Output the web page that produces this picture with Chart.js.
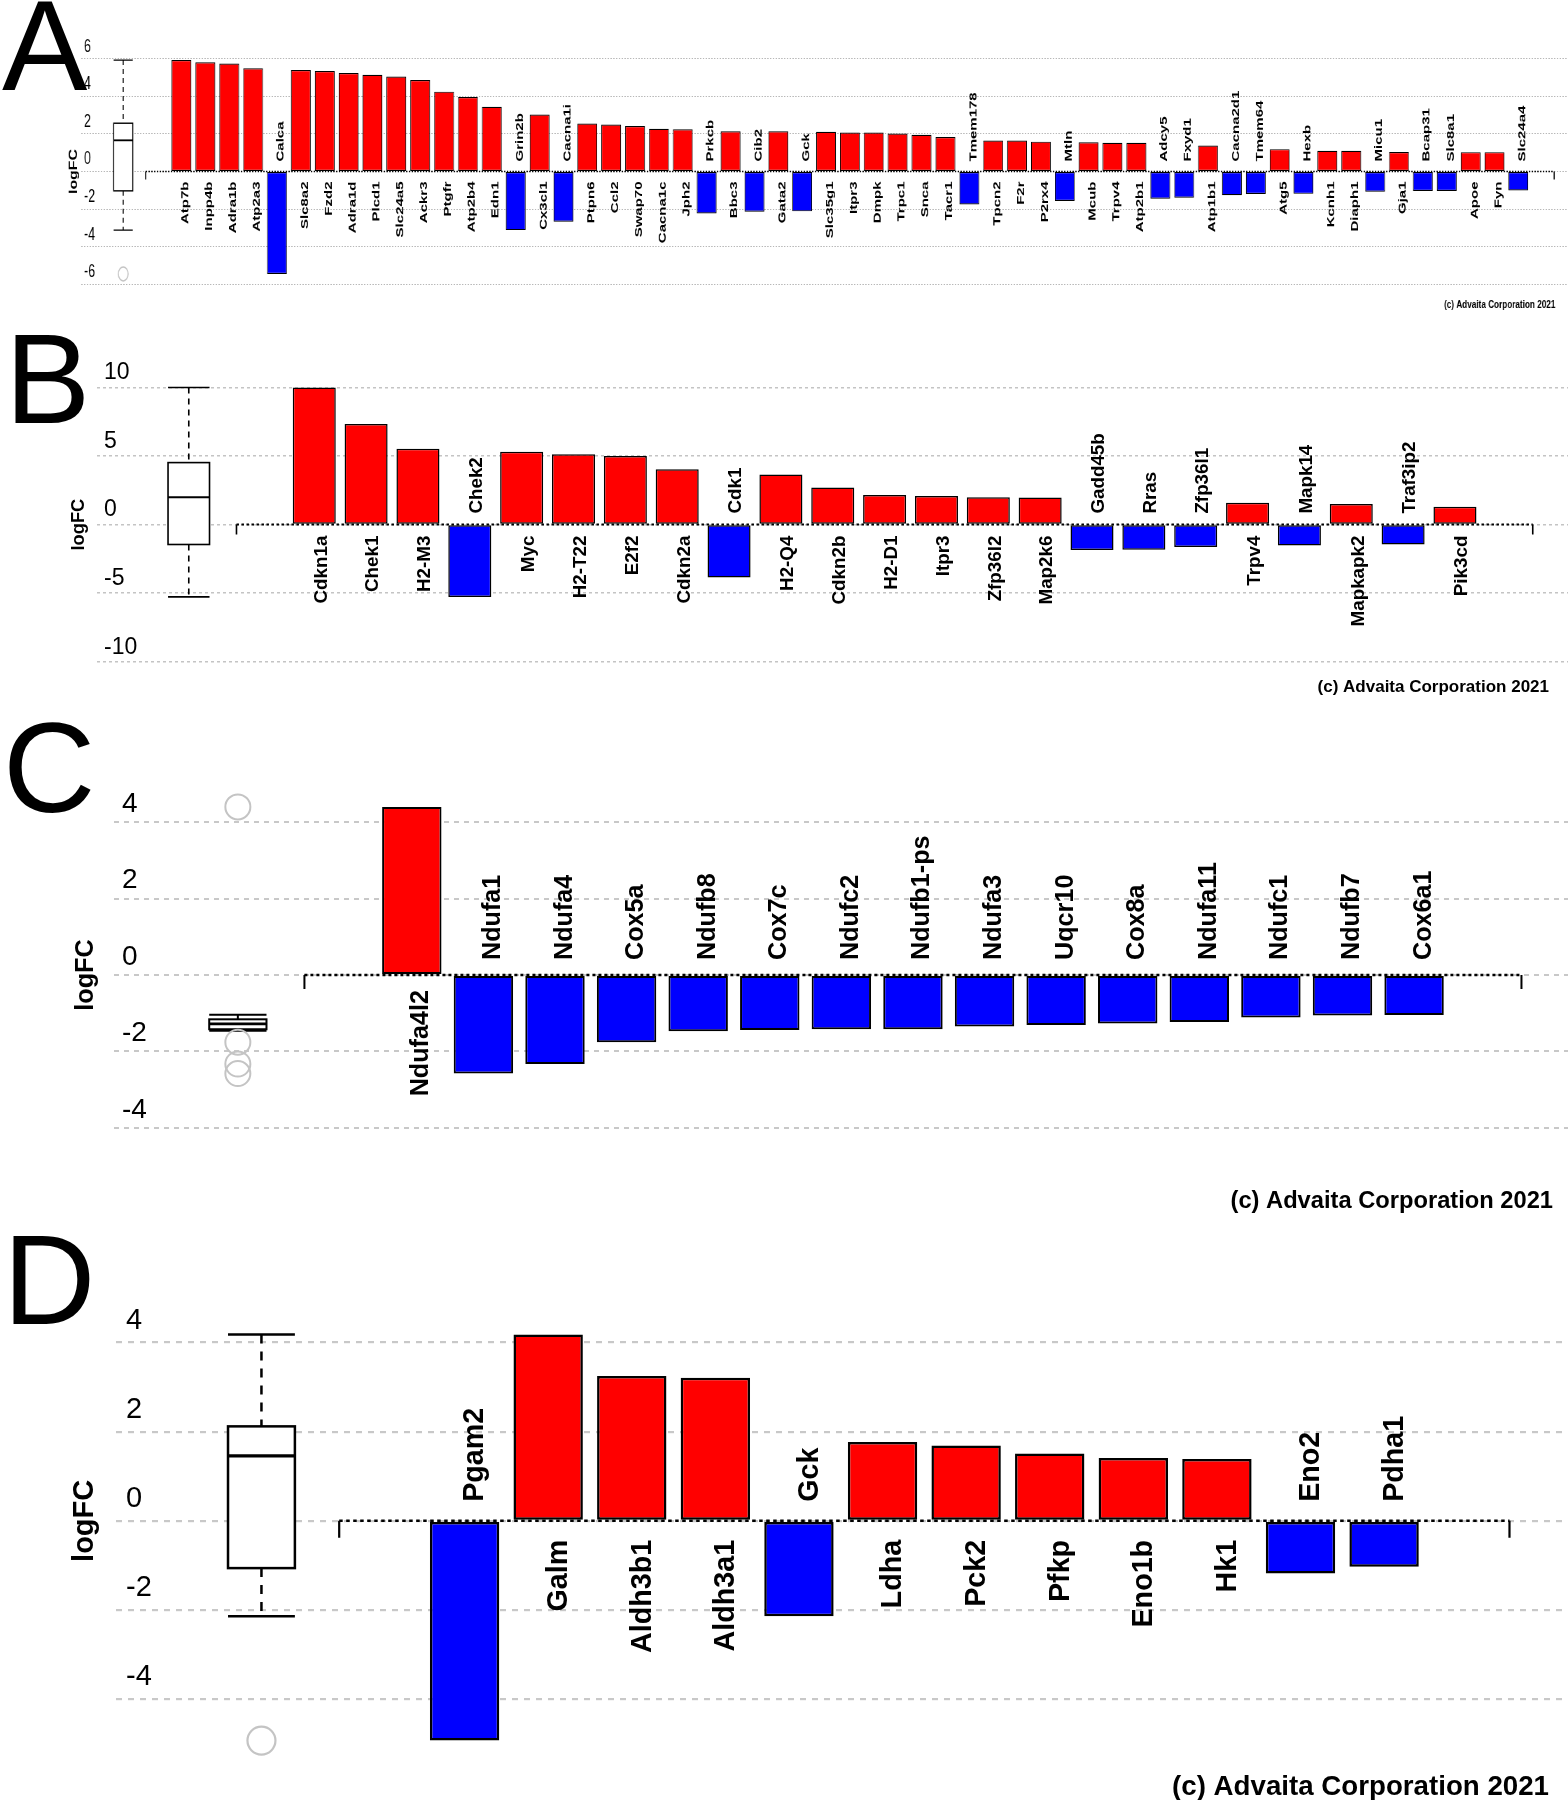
<!DOCTYPE html>
<html lang="en">
<head>
<meta charset="UTF-8">
<title>logFC bar charts A-D</title>
<script src="https://cdn.jsdelivr.net/npm/chart.js"></script>
<style>
  html, body { margin: 0; padding: 0; background: #fff; overflow: hidden; }
  .page { position: relative; width: 1568px; height: 1800px; overflow: hidden; background: #fff; }
  .panel { position: absolute; left: 0; }
  .squeeze { transform: scaleX(0.7); transform-origin: 0 0; }
  .letter {
    position: absolute;
    font-family: 'Liberation Sans', Arial, sans-serif;
    font-size: 128px;
    line-height: 1;
    color: #000;
  }
</style>
</head>
<body>
<div class="page">
  <div class="panel squeeze" style="top:0"><canvas id="chartA" width="2240" height="320"></canvas></div>
  <div class="panel" style="top:320px"><canvas id="chartB" width="1568" height="390"></canvas></div>
  <div class="panel" style="top:710px"><canvas id="chartC" width="1568" height="505"></canvas></div>
  <div class="panel" style="top:1215px"><canvas id="chartD" width="1568" height="585"></canvas></div>

  <div class="letter" style="left:2px; top:-18px">A</div>
  <div class="letter" style="left:5px; top:315px">B</div>
  <div class="letter" style="left:3px; top:704px">C</div>
  <div class="letter" style="left:3px; top:1216px">D</div>
</div>
<script>
// ---- data ----
const genesA = ['Atp7b','Inpp4b','Adra1b','Atp2a3','Calca','Slc8a2','Fzd2','Adra1d','Plcd1','Slc24a5',
  'Ackr3','Ptgfr','Atp2b4','Edn1','Grin2b','Cx3cl1','Cacna1i','Ptpn6','Ccl2','Swap70',
  'Cacna1c','Jph2','Prkcb','Bbc3','Cib2','Gata2','Gck','Slc35g1','Itpr3','Dmpk',
  'Trpc1','Snca','Tacr1','Tmem178','Tpcn2','F2r','P2rx4','Mtln','Mcub','Trpv4',
  'Atp2b1','Adcy5','Fxyd1','Atp1b1','Cacna2d1','Tmem64','Atg5','Hexb','Kcnh1','Diaph1',
  'Micu1','Gja1','Bcap31','Slc8a1','Apoe','Fyn','Slc24a4'];
const logfcA = [5.93, 5.81, 5.75, 5.49, -5.45, 5.40, 5.35, 5.24, 5.15, 5.06,
  4.87, 4.25, 3.96, 3.45, -3.12, 3.03, -2.67, 2.55, 2.50, 2.42,
  2.27, 2.25, -2.23, 2.14, -2.14, 2.14, -2.12, 2.11, 2.07, 2.07,
  2.02, 1.95, 1.84, -1.75, 1.65, 1.65, 1.59, -1.57, 1.56, 1.53,
  1.53, -1.45, -1.40, 1.38, -1.26, -1.20, 1.19, -1.19, 1.10, 1.10,
  -1.08, 1.04, -1.04, -1.04, 1.03, 1.03, -1.01];
const boxA = [-3.12, -1.03, 1.66, 2.57, 5.93];   // low whisker, q1, median, q3, high whisker
const outliersA = [-5.45];
const ticksA = [-6, -4, -2, 0, 2, 4, 6];

const genesB = ['Cdkn1a','Chek1','H2-M3','Chek2','Myc','H2-T22','E2f2','Cdkn2a','Cdk1','H2-Q4',
  'Cdkn2b','H2-D1','Itpr3','Zfp36l2','Map2k6','Gadd45b','Rras','Zfp36l1','Trpv4','Mapk14',
  'Mapkapk2','Traf3ip2','Pik3cd'];
const logfcB = [10.0, 7.34, 5.53, -5.27, 5.31, 5.12, 5.00, 4.03, -3.86, 3.65,
  2.71, 2.15, 2.08, 2.00, 1.98, -1.86, -1.84, -1.64, 1.59, -1.52,
  1.51, -1.45, 1.30];
const boxB = [-5.27, -1.45, 2.00, 4.52, 10.0];
const outliersB = [];
const ticksB = [-10, -5, 0, 5, 10];

const genesC = ['Ndufa4l2','Ndufa1','Ndufa4','Cox5a','Ndufb8','Cox7c','Ndufc2','Ndufb1-ps','Ndufa3',
  'Uqcr10','Cox8a','Ndufa11','Ndufc1','Ndufb7','Cox6a1'];
const logfcC = [4.40, -2.58, -2.33, -1.76, -1.47, -1.44, -1.42, -1.42, -1.35,
  -1.31, -1.27, -1.23, -1.11, -1.06, -1.05];
const boxC = [-1.46, -1.42, -1.28, -1.16, -1.04];
const outliersC = [4.40, -1.76, -2.33, -2.58];
const ticksC = [-4, -2, 0, 2, 4];

const genesD = ['Pgam2','Galm','Aldh3b1','Aldh3a1','Gck','Ldha','Pck2','Pfkp','Eno1b','Hk1','Eno2','Pdha1'];
const logfcD = [-4.93, 4.18, 3.25, 3.21, -2.14, 1.77, 1.69, 1.51, 1.41, 1.39, -1.18, -1.03];
const boxD = [-2.14, -1.06, 1.46, 2.12, 4.18];
const outliersD = [-4.93];
const ticksD = [-4, -2, 0, 2, 4];

const copyright = '(c) Advaita Corporation 2021';
const RED = '#ff0000';
const BLUE = '#0000ff';
const FONT = "'Liberation Sans', Arial, Helvetica, sans-serif";

Chart.defaults.font.family = FONT;
Chart.defaults.color = '#000';

function makePanel(id, genes, values, boxStats, outliers, ticks, s) {
  const points = values.map((v, i) => ({ x: i, y: v }));

  const decor = {
    id: 'decor',
    beforeDatasetsDraw(chart) {
      const { ctx } = chart;
      const xs = chart.scales.x, ys = chart.scales.y;
      const y0 = ys.getPixelForValue(0);
      const xa = xs.getPixelForValue(-1.5);
      const xb = xs.getPixelForValue(values.length + 0.5);
      ctx.save();
      ctx.strokeStyle = '#000';
      ctx.lineWidth = s.axisWidth;
      ctx.setLineDash(s.axisDash);
      ctx.beginPath();
      ctx.moveTo(xa, y0);
      ctx.lineTo(xb, y0);
      ctx.stroke();
      ctx.setLineDash([]);
      ctx.lineWidth = s.axisTickWidth;
      ctx.beginPath();
      ctx.moveTo(xa, y0); ctx.lineTo(xa, y0 + s.axisTick);
      ctx.moveTo(xb, y0); ctx.lineTo(xb, y0 + s.axisTick);
      ctx.stroke();
      ctx.restore();
    },
    afterDatasetsDraw(chart) {
      const { ctx } = chart;
      const xs = chart.scales.x, ys = chart.scales.y;
      const y0 = ys.getPixelForValue(0);
      ctx.save();

      // gene names, rotated, on the opposite side of the bar
      ctx.fillStyle = '#000';
      ctx.font = `bold ${s.nameSize}px ${FONT}`;
      ctx.textBaseline = 'middle';
      const shift = s.nameSize * 0.38;
      genes.forEach((g, i) => {
        const up = values[i] > 0;
        ctx.save();
        ctx.translate(xs.getPixelForValue(i) + shift, up ? y0 + s.nameGap : y0 - s.nameGap);
        ctx.rotate(-Math.PI / 2);
        ctx.textAlign = up ? 'right' : 'left';
        ctx.fillText(g, 0, 0);
        ctx.restore();
      });

      // boxplot of all logFC values
      const [lo, q1, med, q3, hi] = boxStats;
      const cx = xs.getPixelForValue(s.boxAt);
      const hw = xs.getPixelForValue(s.boxAt + 0.4) - cx;
      const pLo = ys.getPixelForValue(lo), pQ1 = ys.getPixelForValue(q1);
      const pMed = ys.getPixelForValue(med), pQ3 = ys.getPixelForValue(q3);
      const pHi = ys.getPixelForValue(hi);
      ctx.strokeStyle = '#000';
      ctx.lineWidth = s.boxLine;
      ctx.setLineDash(s.whiskerDash);
      ctx.beginPath();
      ctx.moveTo(cx, pHi); ctx.lineTo(cx, pQ3);
      ctx.moveTo(cx, pQ1); ctx.lineTo(cx, pLo);
      ctx.stroke();
      ctx.setLineDash([]);
      ctx.beginPath();
      ctx.moveTo(cx - hw, pHi); ctx.lineTo(cx + hw, pHi);
      ctx.moveTo(cx - hw, pLo); ctx.lineTo(cx + hw, pLo);
      ctx.stroke();
      ctx.fillStyle = '#fff';
      ctx.fillRect(cx - hw, pQ3, 2 * hw, pQ1 - pQ3);
      ctx.strokeRect(cx - hw, pQ3, 2 * hw, pQ1 - pQ3);
      ctx.lineWidth = s.boxLine * 1.3;
      ctx.beginPath();
      ctx.moveTo(cx - hw, pMed); ctx.lineTo(cx + hw, pMed);
      ctx.stroke();

      ctx.strokeStyle = '#c4c4c4';
      ctx.lineWidth = s.outLine;
      outliers.forEach(v => {
        ctx.beginPath();
        ctx.arc(cx, ys.getPixelForValue(v), s.outR, 0, Math.PI * 2);
        ctx.stroke();
      });

      // axis title
      ctx.fillStyle = '#000';
      ctx.font = `bold ${s.titleSize}px ${FONT}`;
      ctx.save();
      ctx.translate(s.titleX, y0);
      ctx.rotate(-Math.PI / 2);
      ctx.textAlign = 'center';
      ctx.textBaseline = 'middle';
      ctx.fillText('logFC', 0, 0);
      ctx.restore();

      // copyright line
      ctx.font = `bold ${s.copySize}px ${FONT}`;
      ctx.textAlign = 'right';
      ctx.textBaseline = 'middle';
      ctx.fillText(copyright, s.copyX, s.copyY);
      ctx.restore();
    }
  };

  return new Chart(document.getElementById(id), {
    type: 'bar',
    data: {
      datasets: [{
        data: points,
        backgroundColor: values.map(v => v > 0 ? RED : BLUE),
        borderColor: '#000',
        borderWidth: s.barLine,
        borderSkipped: false,
        barPercentage: 0.83,
        categoryPercentage: 1
      }]
    },
    options: {
      responsive: false,
      animation: false,
      events: [],
      layout: { padding: { left: s.left, top: s.top, bottom: s.bottom, right: 0 } },
      plugins: { legend: { display: false }, tooltip: { enabled: false } },
      scales: {
        x: { type: 'linear', display: false, offset: false, min: s.xMin, max: s.xMax },
        y: {
          min: s.yMin,
          max: s.yMax,
          afterBuildTicks: sc => { sc.ticks = ticks.map(v => ({ value: v })); },
          grid: { color: s.gridColor, lineWidth: s.gridWidth, drawTicks: false },
          border: { display: false, dash: s.gridDash },
          ticks: {
            mirror: true,
            padding: s.tickPad,
            labelOffset: s.tickOffset,
            font: { size: s.tickSize },
            color: '#000'
          }
        }
      }
    },
    plugins: [decor]
  });
}

// panel A is drawn wide and squeezed horizontally (0.7) like the original
makePanel('chartA', genesA, logfcA, boxA, outliersA, ticksA, {
  left: 108, top: 40, bottom: 17, xMin: -4.2, xMax: 58.08, yMin: -7, yMax: 7,
  tickPad: 4, tickOffset: -12, tickSize: 17.7,
  gridColor: '#b8b8b8', gridWidth: 1, gridDash: [2, 2],
  barLine: 1.2, nameSize: 15, nameGap: 10,
  boxAt: -2.44, boxLine: 1.4, whiskerDash: [5, 4], outR: 7, outLine: 1.5,
  axisWidth: 1.5, axisDash: [2, 2], axisTick: 8, axisTickWidth: 1.6,
  titleX: 105.7, titleSize: 15.9,
  copyX: 2222, copyY: 305, copySize: 11.7
});

makePanel('chartB', genesB, logfcB, boxB, outliersB, ticksB, {
  left: 83, top: 40, bottom: 18, xMin: -4.19, xMax: 24.18, yMin: -12, yMax: 12,
  tickPad: 7, tickOffset: -14.5, tickSize: 23,
  gridColor: '#c4c4c4', gridWidth: 1.5, gridDash: [3, 3],
  barLine: 1.5, nameSize: 18.8, nameGap: 11,
  boxAt: -2.42, boxLine: 1.6, whiskerDash: [6, 5], outR: 9, outLine: 1.8,
  axisWidth: 2, axisDash: [2.5, 2.5], axisTick: 10, axisTickWidth: 1.6,
  titleX: 79, titleSize: 18.3,
  copyX: 1549, copyY: 367, copySize: 17
});

makePanel('chartC', genesC, logfcC, boxC, outliersC, ticksC, {
  left: 98, top: 74, bottom: 49, xMin: -4.16, xMax: 16.15, yMin: -5, yMax: 5,
  tickPad: 8, tickOffset: -18, tickSize: 28,
  gridColor: '#c8c8c8', gridWidth: 2, gridDash: [5, 5],
  barLine: 2, nameSize: 25.2, nameGap: 15,
  boxAt: -2.43, boxLine: 2, whiskerDash: [8, 7], outR: 12.5, outLine: 2,
  axisWidth: 2.5, axisDash: [3, 3], axisTick: 14, axisTickWidth: 2,
  titleX: 86, titleSize: 25.3,
  copyX: 1553, copyY: 491, copySize: 23.7
});

makePanel('chartD', genesD, logfcD, boxD, outliersD, ticksD, {
  left: 96, top: 83, bottom: 34, xMin: -4.17, xMax: 13.2, yMin: -5.5, yMax: 5,
  tickPad: 10, tickOffset: -22, tickSize: 29,
  gridColor: '#c8c8c8', gridWidth: 2.2, gridDash: [6, 6],
  barLine: 2.5, nameSize: 28.7, nameGap: 19,
  boxAt: -2.43, boxLine: 2.5, whiskerDash: [9, 8], outR: 14, outLine: 2.2,
  axisWidth: 2.5, axisDash: [3.5, 3.5], axisTick: 17, axisTickWidth: 2.2,
  titleX: 85, titleSize: 29,
  copyX: 1549, copyY: 572, copySize: 27.7
});
</script>
</body>
</html>
